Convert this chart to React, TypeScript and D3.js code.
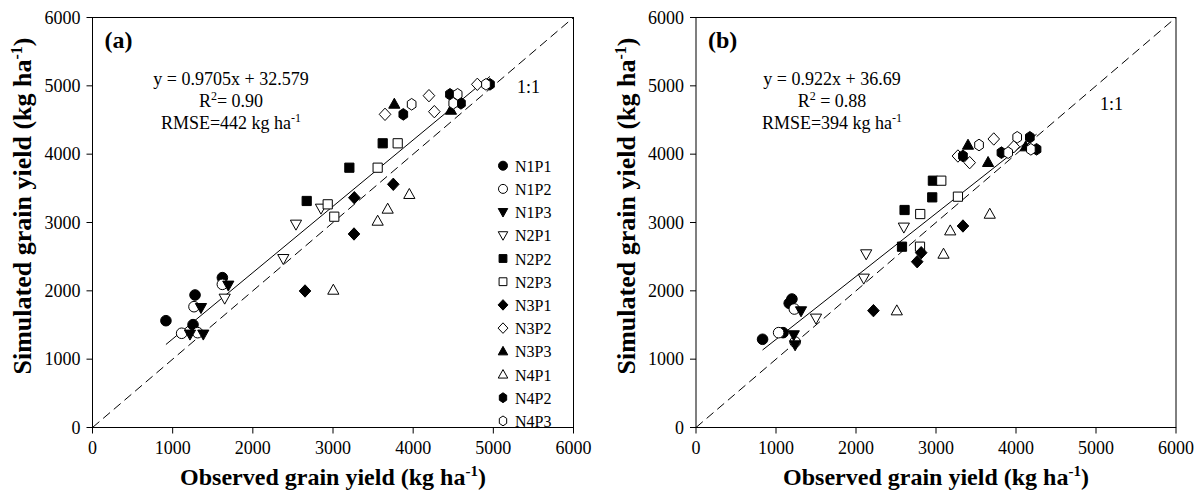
import React from "react";
import * as d3 from "d3";

// ---------- data ----------
const SERIES = ["N1P1", "N1P2", "N1P3", "N2P1", "N2P2", "N2P3", "N3P1", "N3P2", "N3P3", "N4P1", "N4P2", "N4P3"];
const X_TICKS = [0, 1000, 2000, 3000, 4000, 5000, 6000];
const Y_TICKS = [0, 1000, 2000, 3000, 4000, 5000, 6000];

// Panel (a): [observed, simulated]
const A_N1P1 = [[916, 1563], [1279, 1939], [1620, 2193], [1254, 1505]];
const A_N1P2 = [[1266, 1768], [1620, 2095], [1112, 1379], [1312, 1388]];
const A_N1P3 = [[1353, 1753], [1694, 2081], [1216, 1364], [1382, 1364]];
const A_N2P1 = [[1649, 1890], [2380, 2470], [2850, 3207], [2538, 2973]];
const A_N2P2 = [[2672, 3315], [3204, 3802], [3620, 4159]];
const A_N2P3 = [[2934, 3266], [3016, 3085], [3557, 3802], [3807, 4159]];
const A_N3P1 = [[2651, 1998], [3266, 3363], [3262, 2832], [3752, 3559]];
const A_N3P2 = [[3649, 4583], [4197, 4856], [4264, 4622], [4800, 5022]];
const A_N3P3 = [[3765, 4734], [4471, 4646]];
const A_N4P1 = [[3004, 2012], [3952, 3413], [3682, 3198], [3557, 3022]];
const A_N4P2 = [[3877, 4583], [4459, 4876], [4596, 4744], [4958, 5022]];
const A_N4P3 = [[3981, 4730], [4555, 4876], [4500, 4744], [4908, 5022]];

// Panel (b)
const B_N1P1 = [[832, 1291], [1199, 1880], [1165, 1818], [1088, 1388]];
const B_N1P2 = [[1033, 1388], [1229, 1734], [1239, 1251]];
const B_N1P3 = [[1313, 1705], [1222, 1354], [1239, 1207]];
const B_N2P1 = [[1500, 1598], [2097, 2183], [2127, 2539], [2598, 2930]];
const B_N2P2 = [[2575, 2646], [2607, 3183], [2953, 3368], [2961, 3612]];
const B_N2P3 = [[2800, 2646], [2803, 3124], [3274, 3378], [3066, 3612]];
const B_N3P1 = [[2218, 1710], [2815, 2558], [2765, 2426], [3337, 2949]];
const B_N3P2 = [[3274, 3973], [3421, 3876], [3722, 4222], [3973, 4110]];
const B_N3P3 = [[3400, 4134], [3651, 3881], [4121, 4110]];
const B_N4P1 = [[2510, 1710], [3094, 2539], [3178, 2880], [3672, 3124]];
const B_N4P2 = [[3337, 3973], [3818, 4022], [4173, 4247], [4257, 4071]];
const B_N4P3 = [[3538, 4134], [3902, 4022], [4015, 4247], [4186, 4071]];

const PANEL_A = [A_N1P1, A_N1P2, A_N1P3, A_N2P1, A_N2P2, A_N2P3, A_N3P1, A_N3P2, A_N3P3, A_N4P1, A_N4P2, A_N4P3];
const PANEL_B = [B_N1P1, B_N1P2, B_N1P3, B_N2P1, B_N2P2, B_N2P3, B_N3P1, B_N3P2, B_N3P3, B_N4P1, B_N4P2, B_N4P3];

// fitted lines as drawn in the figure: slope, intercept
const REG_A = [0.9705, 325.79];
const REG_B = [0.922, 366.9];

// ---------- styles ----------
const SHAPES = ["circle", "circle", "tdown", "tdown", "square", "square", "diamond", "diamond", "tup", "tup", "hex", "hex"];
const FILLED = [true, false, true, false, true, false, true, false, true, false, true, false];
const FONT = "'Liberation Serif', 'Times New Roman', serif";

function shapePath(shape: string, s: number): string {
  const p = d3.path();
  if (shape === "circle") {
    p.arc(0, 0, 5.3 * s, 0, Math.PI * 2);
  } else if (shape === "tup") {
    p.moveTo(0, -5.8 * s); p.lineTo(5.6 * s, 4.2 * s); p.lineTo(-5.6 * s, 4.2 * s); p.closePath();
  } else if (shape === "tdown") {
    p.moveTo(0, 5.8 * s); p.lineTo(5.6 * s, -4.2 * s); p.lineTo(-5.6 * s, -4.2 * s); p.closePath();
  } else if (shape === "square") {
    p.rect(-4.6 * s, -4.6 * s, 9.2 * s, 9.2 * s);
  } else if (shape === "diamond") {
    p.moveTo(0, -6.2 * s); p.lineTo(5.8 * s, 0); p.lineTo(0, 6.2 * s); p.lineTo(-5.8 * s, 0); p.closePath();
  } else {
    for (let k = 0; k < 6; k++) {
      const a = -Math.PI / 2 + (k * Math.PI) / 3;
      const x = Math.cos(a) * 5.0 * s, y = Math.sin(a) * 5.8 * s;
      if (k === 0) p.moveTo(x, y); else p.lineTo(x, y);
    }
    p.closePath();
  }
  return p.toString();
}

function Marker({ i, x, y, s = 1 }: { i: number; x: number; y: number; s?: number }) {
  return (
    <path
      d={shapePath(SHAPES[i], s)}
      transform={`translate(${x},${y})`}
      fill={FILLED[i] ? "#000" : "#fff"}
      stroke="#000"
      strokeWidth={1}
    />
  );
}

interface PanelProps {
  left: number;
  right: number;
  data: number[][][];
  reg: number[];
  label: string;
  eq: string;
  r2: string;
  rmse: string;
  eqX: number;
  oneX: number;
  oneY: number;
  yTitleX: number;
  legend: boolean;
}

function Panel(p: PanelProps) {
  const top = 17.5, bottom = 427.5;
  const x = d3.scaleLinear().domain([0, 6000]).range([p.left, p.right]);
  const y = d3.scaleLinear().domain([0, 6000]).range([bottom, top]);
  const all = p.data.flat();
  const [xmin, xmax] = d3.extent(all, (d) => d[0]) as [number, number];
  const line = d3.line<number[]>().x((d) => x(d[0])).y((d) => y(d[1]));
  const regPts = [xmin, xmax].map((v) => [v, p.reg[0] * v + p.reg[1]]);
  const midX = (p.left + p.right) / 2;
  return (
    <g fontFamily={FONT}>
      <rect x={p.left} y={top} width={p.right - p.left} height={bottom - top} fill="none" stroke="#000" strokeWidth={1} />
      {X_TICKS.map((t) => (
        <g key={"x" + t}>
          <line x1={x(t)} x2={x(t)} y1={bottom} y2={bottom + 6} stroke="#000" />
          <text x={x(t)} y={bottom + 26} textAnchor="middle" fontSize={18}>{t}</text>
        </g>
      ))}
      {Y_TICKS.map((t) => (
        <g key={"y" + t}>
          <line x1={p.left - 6} x2={p.left} y1={y(t)} y2={y(t)} stroke="#000" />
          <text x={p.left - 12} y={y(t) + 6} textAnchor="end" fontSize={18}>{t}</text>
        </g>
      ))}
      <path d={line([[0, 0], [6000, 6000]]) || ""} stroke="#000" strokeWidth={1} strokeDasharray="9,5" fill="none" />
      <path d={line(regPts) || ""} stroke="#000" strokeWidth={1} fill="none" />
      {p.data.map((ser, i) =>
        ser.map((d, j) => <Marker key={i + "-" + j} i={i} x={x(d[0])} y={y(d[1])} />)
      )}
      <text x={p.left + 12} y={48} fontSize={24} fontWeight="bold">{p.label}</text>
      <text x={p.eqX} y={85} textAnchor="middle" fontSize={18}>{p.eq}</text>
      <text x={p.eqX} y={107} textAnchor="middle" fontSize={18}>
        R<tspan dy={-7} fontSize={12}>2</tspan><tspan dy={7}>{p.r2}</tspan>
      </text>
      <text x={p.eqX} y={129} textAnchor="middle" fontSize={18}>
        {p.rmse} kg ha<tspan dy={-7} fontSize={12}>-1</tspan>
      </text>
      <text x={p.oneX} y={p.oneY} fontSize={18}>1:1</text>
      <text x={midX} y={485} textAnchor="middle" fontSize={24} fontWeight="bold">
        Observed grain yield (kg ha<tspan dy={-9} fontSize={15}>-1</tspan><tspan dy={9}>)</tspan>
      </text>
      <text transform={`translate(${p.yTitleX},206) rotate(-90)`} textAnchor="middle" fontSize={26} fontWeight="bold">
        Simulated grain yield (kg ha<tspan dy={-9} fontSize={16}>-1</tspan><tspan dy={9}>)</tspan>
      </text>
      {p.legend &&
        SERIES.map((s, i) => (
          <g key={"lg" + s}>
            <Marker i={i} x={503} y={165.7 + i * 23.2} s={0.85} />
            <text x={515} y={165.7 + i * 23.2 + 6} fontSize={16}>{s}</text>
          </g>
        ))}
    </g>
  );
}

export default function App() {
  return (
    <svg width={1204} height={492} style={{ position: "absolute", left: 0, top: 0, background: "#fff" }}>
      <rect width={1204} height={492} fill="#fff" />
      <Panel left={92.5} right={573.5} data={PANEL_A} reg={REG_A} label="(a)"
        eq="y = 0.9705x + 32.579" r2="= 0.90" rmse="RMSE=442" eqX={231} oneX={517} oneY={93}
        yTitleX={31} legend={true} />
      <Panel left={696} right={1176} data={PANEL_B} reg={REG_B} label="(b)"
        eq="y = 0.922x + 36.69" r2=" = 0.88" rmse="RMSE=394" eqX={832} oneX={1100} oneY={110}
        yTitleX={635} legend={false} />
    </svg>
  );
}
